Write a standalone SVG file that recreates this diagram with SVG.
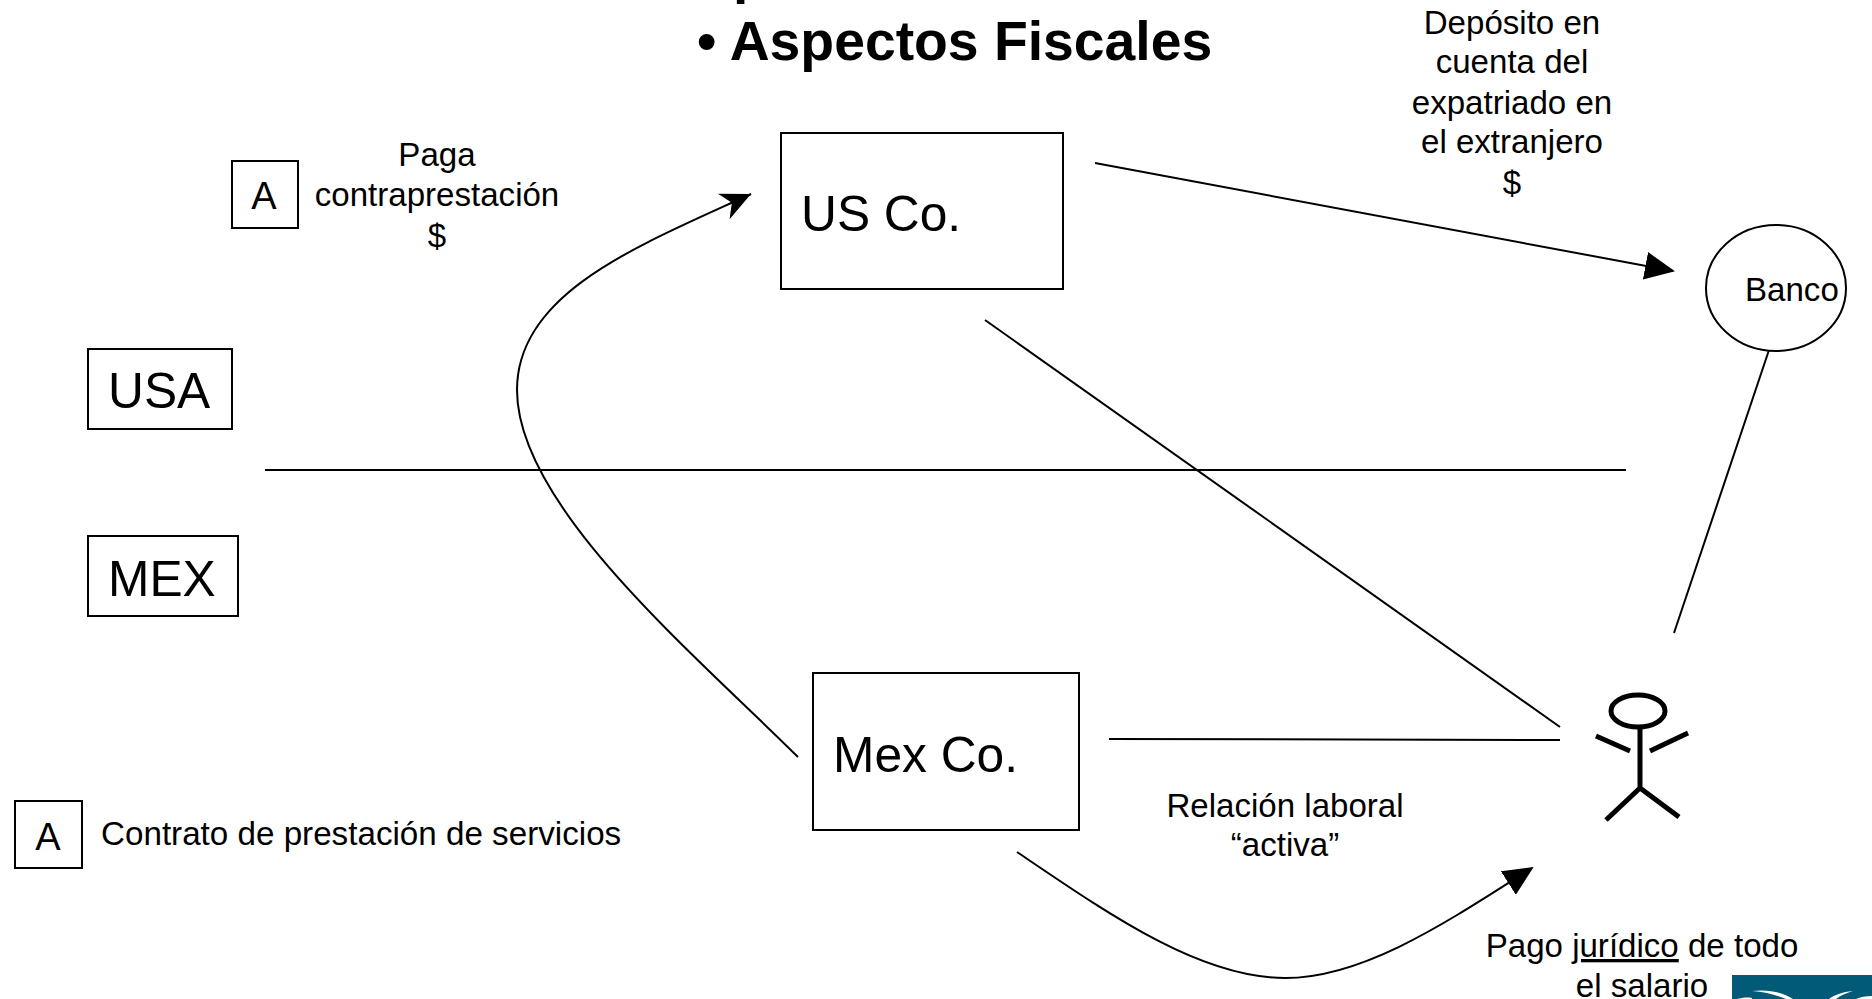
<svg xmlns="http://www.w3.org/2000/svg" width="1872" height="999" viewBox="0 0 1872 999">
<style>
text{font-family:"Liberation Sans",Arial,sans-serif;fill:#000}
.s{font-size:33.1px;text-anchor:middle}
.b{font-size:49.7px}
.box{fill:#fff;stroke:#000;stroke-width:2}
.l{fill:none;stroke:#000;stroke-width:2}
.p{fill:none;stroke:#000;stroke-width:5}
</style>
<defs>
<marker id="tri" markerUnits="userSpaceOnUse" markerWidth="30" markerHeight="28" refX="28" refY="14" orient="auto"><path d="M0 0L30 14L0 28Z" fill="#000"/></marker>
<marker id="open" markerUnits="userSpaceOnUse" markerWidth="32" markerHeight="30" refX="30" refY="15" orient="auto"><path d="M0 1L30 15L0 29L9 15Z" fill="#000"/></marker>
</defs>
<rect width="1872" height="999" fill="#fff"/>
<text id="title" x="697" y="60" font-size="55.3" font-weight="700">• Aspectos Fiscales</text>
<text x="733" y="-8" font-size="55" font-weight="700">p</text>
<g id="connectors">
<path class="l" d="M1095 163L1673 271" marker-end="url(#tri)"/>
<path class="l" d="M985 320L1560 727"/>
<path class="l" d="M265 470H1626"/>
<path class="l" d="M1769 350L1674 633"/>
<path class="l" d="M1109 739L1560 740"/>
<path class="l" d="M798 757C690 650 517 505 517 390C517 292 640 245 751 194" marker-end="url(#open)"/>
<path class="l" d="M1017 852C1110 915 1200 978 1285 978C1365 978 1450 920 1532 868" marker-end="url(#tri)"/>
</g>
<g id="us-co"><rect class="box" x="781" y="133" width="282" height="156"/><text class="b" x="801" y="231">US Co.</text></g>
<g id="mex-co"><rect class="box" x="813" y="673" width="266" height="157"/><text class="b" x="833" y="772">Mex Co.</text></g>
<g id="usa"><rect class="box" x="88" y="349" width="144" height="80"/><text class="b" x="108" y="408">USA</text></g>
<g id="mex"><rect class="box" x="88" y="536" width="150" height="80"/><text class="b" x="108" y="596">MEX</text></g>
<g id="a-top"><rect class="box" x="232" y="161" width="66" height="67"/><text x="264" y="209" font-size="38" text-anchor="middle">A</text></g>
<g id="a-bottom"><rect class="box" x="15" y="801" width="67" height="67"/><text x="48" y="850" font-size="38" text-anchor="middle">A</text></g>
<g id="banco"><ellipse class="box" cx="1776" cy="288" rx="70" ry="63"/><text x="1745" y="301" font-size="33.1">Banco</text></g>
<g id="person">
<ellipse class="p" cx="1638" cy="711" rx="27" ry="16"/>
<path class="p" d="M1640 727V788M1596 736L1630 751M1688 733L1650 751M1640 788L1606 820M1640 788L1679 817"/>
</g>
<g id="labels">
<text class="s" x="437" y="166">Paga</text><text class="s" x="437" y="206">contraprestación</text><text class="s" x="437" y="247">$</text>
<text class="s" x="1512" y="34">Depósito en</text><text class="s" x="1512" y="73">cuenta del</text><text class="s" x="1512" y="114">expatriado en</text><text class="s" x="1512" y="153">el extranjero</text><text class="s" x="1512" y="194">$</text>
<text x="101" y="845" font-size="33.2">Contrato de prestación de servicios</text>
<text class="s" x="1285" y="817">Relación laboral</text><text class="s" x="1285" y="856">“activa”</text>
<text class="s" x="1642" y="957">Pago <tspan text-decoration="underline">jurídico</tspan> de todo</text><text class="s" x="1642" y="997">el salario</text>
</g>
<g id="logo"><rect x="1732" y="975" width="140" height="24" fill="#005a78"/><path d="M1752 991C1768 989 1782 992 1793 999H1786C1776 995 1765 992 1752 991ZM1737 999C1741 998 1747 997 1752 998V999ZM1853 991C1842 992 1834 995 1829 999H1836C1841 995 1847 993 1853 991ZM1856 999C1860 997 1866 996 1872 996V999Z" fill="#fff"/></g>
</svg>
